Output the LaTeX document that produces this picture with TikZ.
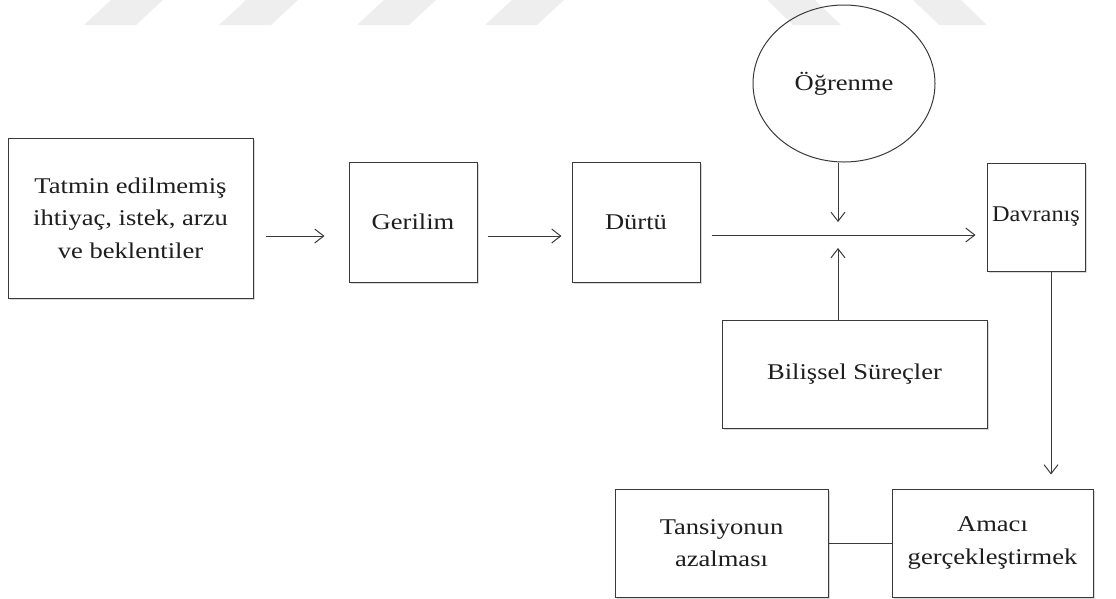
\documentclass[tikz,border=0pt]{standalone}
\usepackage{fontspec}
\setmainfont{Liberation Serif}[FakeStretch=1.18]
\newfontfamily\narrowserif{Liberation Serif}[FakeStretch=1.08]
\usetikzlibrary{arrows.meta,positioning,shapes.geometric,shadows}
\definecolor{ink}{HTML}{1E1E1E}
\definecolor{edge}{HTML}{3A3A3A}
\definecolor{wmark}{HTML}{EEEEEE}
\tikzset{
  >={Straight Barb[length=9pt,width=14pt]},
  every node/.style={font=\fontsize{22.5}{32.5}\selectfont,text=ink},
  box/.style={draw=edge,line width=1pt,fill=white,align=center,inner sep=4pt,
    drop shadow={shadow xshift=1.5pt,shadow yshift=-1.5pt,opacity=0.3}},
  oval/.style={ellipse,draw=edge,line width=1pt,inner sep=0pt,
    minimum width=182pt,minimum height=157pt},
  arrow/.style={->,line width=1pt,draw=edge},
  link/.style={line width=1pt,draw=edge},
}
\begin{document}
\begin{tikzpicture}[x=1pt,y=-1pt]
\useasboundingbox (0,0) rectangle (1116,598);

% faint stripes at the top
\foreach \x in {84,219,357,485}
  \fill[wmark] (\x,25) -- (\x+52,25) -- (\x+79,0) -- (\x+27,0) -- cycle;
\foreach \x in {767,913}
  \fill[wmark] (\x,0) -- (\x+48,0) -- (\x+74,25) -- (\x+26,25) -- cycle;

\node[box,minimum width=245pt,minimum height=160pt] (ihtiyac) at (130.5,218)
  {Tatmin edilmemiş\\ihtiyaç, istek, arzu\\ve beklentiler};
\node[box,minimum width=128pt,minimum height=120pt] (gerilim) at (413,222) {Gerilim};
\node[box,minimum width=128pt,minimum height=120pt] (durtu) at (636,222) {Dürtü};
\node[box,inner xsep=0pt,minimum width=98pt,minimum height=108pt] (davranis) at (1036,217) {\narrowserif Davranış};
\node[oval] (ogrenme) at (844,83.5) {Öğrenme};
\node[box,minimum width=265pt,minimum height=108pt] (bilissel) at (854.5,374) {Bilişsel Süreçler};
\node[box,minimum width=201pt,minimum height=108pt] (amac) at (992.5,543) {Amacı\\gerçekleştirmek};
\node[box,minimum width=213pt,minimum height=108pt] (tansiyon) at (721.5,543) {Tansiyonun\\azalması};

\coordinate (kesisim) at (838,235);
\coordinate (dinis) at (1051,271);

\draw[arrow,shorten <=12pt,shorten >=24pt] (ihtiyac.east |- 0,236) -- (gerilim.west |- 0,236);
\draw[arrow,shorten <=10pt,shorten >=10pt] (gerilim.east |- 0,236) -- (durtu.west |- 0,236);
\draw[arrow,shorten <=11pt,shorten >=11pt] (durtu.east |- kesisim) -- (davranis.west |- kesisim);
\draw[arrow] (ogrenme.south -| kesisim) -- ([yshift=13pt]kesisim);
\draw[arrow] (bilissel.north -| kesisim) -- ([yshift=-13pt]kesisim);
\draw[arrow,shorten >=14pt] (dinis) -- (dinis |- amac.north);
\draw[link] (tansiyon) -- (amac);

\end{tikzpicture}
\end{document}
